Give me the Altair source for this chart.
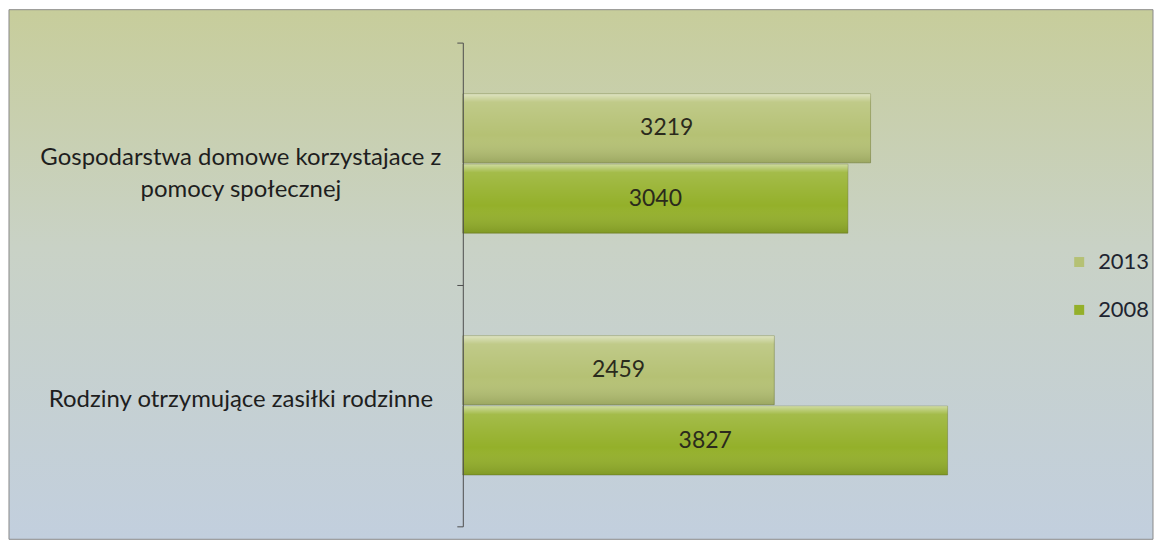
import altair as alt
import pandas as pd

categories = ["Gospodarstwa domowe korzystajace z\npomocy społecznej",
              "Rodziny otrzymujące zasiłki rodzinne"]
years = ["2013", "2008"]
values_2013 = [3219, 2459]
values_2008 = [3040, 3827]
year_colors = ["#b5c174", "#94b02a"]

rows = []
for i, c in enumerate(categories):
    rows.append({"kat": c, "rok": "2013", "val": values_2013[i]})
    rows.append({"kat": c, "rok": "2008", "val": values_2008[i]})
df = pd.DataFrame(rows)

FONT = "Lato"

bg_gradient = {
    "gradient": "linear", "x1": 0, "y1": 0, "x2": 0, "y2": 1,
    "stops": [
        {"offset": 0, "color": "#c7cd9b"},
        {"offset": 0.45, "color": "#c9d2c6"},
        {"offset": 1, "color": "#c2cfde"},
    ],
}
shine = {
    "gradient": "linear", "x1": 0, "y1": 0, "x2": 0, "y2": 1,
    "stops": [
        {"offset": 0, "color": "rgba(255,255,255,0.55)"},
        {"offset": 0.12, "color": "rgba(255,255,255,0.15)"},
        {"offset": 0.6, "color": "rgba(255,255,255,0.0)"},
        {"offset": 1, "color": "rgba(40,50,10,0.18)"},
    ],
}

y_enc = alt.Y(
    "kat:N", sort=categories, title=None,
    scale=alt.Scale(paddingInner=0, paddingOuter=0),
    axis=alt.Axis(
        domainColor="#4d4d4d", tickColor="#4d4d4d", tickSize=6,
        tickBand="extent", labelAlign="center", labelBaseline="middle",
        labelPadding=217, labelFont=FONT, labelFontSize=24,
        labelColor="#1e1e1e", labelLineHeight=32, labelOffset=-6,
        labelExpr="split(datum.label, '\\n')",
        minExtent=455, maxExtent=455, labelLimit=0, grid=False,
        zindex=1,
    ),
)
yoff = alt.YOffset("rok:N", sort=years,
                   scale=alt.Scale(paddingInner=0.02, paddingOuter=0.73))
x_scale = alt.Scale(domain=[0, 5433], nice=False, zero=True)

base = alt.Chart(df)

background = alt.Chart(alt.Data(values=[{"a": 1}])).mark_rect(
    fill=bg_gradient, stroke="#8a8a8a", strokeWidth=1
).encode(
    x=alt.value(-455), x2=alt.value(692), y=alt.value(-33), y2=alt.value(498)
)

bars = base.mark_bar(stroke="#5d6b22", strokeWidth=0.6, strokeOpacity=0.7).encode(
    x=alt.X("val:Q", scale=x_scale, axis=None),
    y=y_enc,
    yOffset=yoff,
    color=alt.Color(
        "rok:N", sort=years,
        scale=alt.Scale(domain=years, range=year_colors),
        legend=alt.Legend(
            orient="none", legendX=607, legendY=209, title=None,
            symbolType="square", symbolSize=100, symbolStrokeWidth=0,
            labelFont=FONT, labelFontSize=22, labelColor="#1e2430",
            rowPadding=26, labelOffset=8,
        ),
    ),
)

overlay = base.mark_bar(fill=shine).encode(
    x=alt.X("val:Q", scale=x_scale, axis=None),
    y=alt.Y("kat:N", sort=categories),
    yOffset=yoff,
)

labels = base.transform_calculate(mid="datum.val / 2").mark_text(
    font=FONT, fontSize=23, color="#2a2a1c", baseline="middle", align="center"
).encode(
    x=alt.X("mid:Q", scale=x_scale, axis=None),
    y=alt.Y("kat:N", sort=categories),
    yOffset=yoff,
    text=alt.Text("val:Q", format="d"),
)

chart = alt.layer(background, bars, overlay, labels).properties(
    width=690, height=485, padding=0
).configure_view(stroke=None).configure(background="white")

chart.save("out.html", embed_options={"renderer": "svg", "actions": False})
